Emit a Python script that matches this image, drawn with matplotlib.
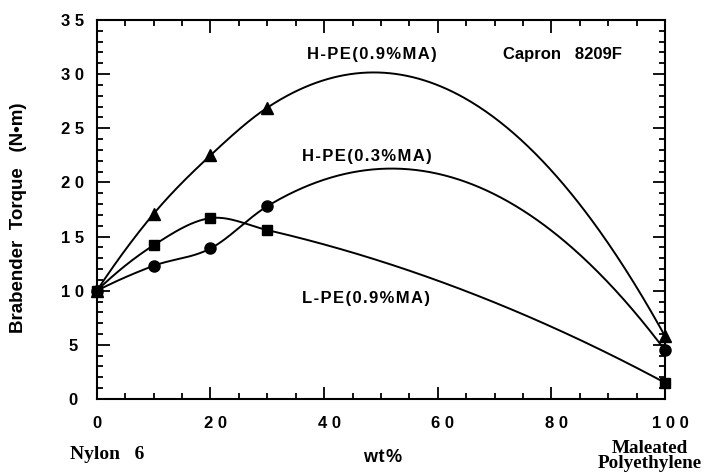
import numpy as np
import matplotlib
matplotlib.use("Agg")
import matplotlib.pyplot as plt
from matplotlib.ticker import MultipleLocator
from matplotlib.transforms import ScaledTranslation

# wt% of maleated polyethylene in the blend
wt_pct = [0, 10, 20, 30, 100]

# Brabender torque (N·m) for each blend series
torque_hpe_09 = [10.0, 17.1, 22.5, 26.9, 5.8]
torque_hpe_03 = [10.0, 12.3, 13.9, 17.8, 4.5]
torque_lpe_09 = [10.0, 14.2, 16.7, 15.6, 1.5]

x_ticks = [0, 20, 40, 60, 80, 100]
x_tick_labels = ["0", "2 0", "4 0", "6 0", "8 0", "1 0 0"]
y_ticks = [0, 5, 10, 15, 20, 25, 30, 35]
y_tick_labels = ["0", "5", "1 0", "1 5", "2 0", "2 5", "3 0", "3 5"]

SANS = ["Liberation Sans", "DejaVu Sans"]
SERIF = ["Liberation Serif", "DejaVu Serif"]
HAIR = "\u200a"


def spaced(s, sep=HAIR):
    return sep.join(s)


def parabolic_blend(x, y, xs):
    """Parabolic-blending curve: each interval mixes the parabolas through
    the neighbouring point triples; end intervals use a single parabola."""
    x = np.asarray(x, float)
    y = np.asarray(y, float)
    n = len(x)
    paras = [np.polyfit(x[i:i + 3], y[i:i + 3], 2) for i in range(n - 2)]
    out = np.empty_like(xs)
    idx = np.clip(np.searchsorted(x, xs) - 1, 0, n - 2)
    for j, (xv, i) in enumerate(zip(xs, idx)):
        left = paras[i - 1] if i - 1 >= 0 else None
        right = paras[i] if i <= n - 3 else None
        if left is None:
            out[j] = np.polyval(right, xv)
        elif right is None:
            out[j] = np.polyval(left, xv)
        else:
            t = (xv - x[i]) / (x[i + 1] - x[i])
            out[j] = (1 - t) * np.polyval(left, xv) + t * np.polyval(right, xv)
    return out


fig = plt.figure(figsize=(7.12, 4.72), dpi=100)
ax = fig.add_axes([0.136, 0.1547, 0.798, 0.803])

xs = np.linspace(0, 100, 400)
series = [
    (torque_hpe_09, "^", 8.5),
    (torque_hpe_03, "o", 8),
    (torque_lpe_09, "s", 7.5),
]
for vals, mk, ms in series:
    ax.plot(xs, parabolic_blend(wt_pct, vals, xs), color="black", lw=1.4,
            clip_on=False, zorder=2)
    ax.plot(wt_pct, vals, linestyle="none", marker=mk, ms=ms, color="black",
            clip_on=False, zorder=3)

ax.set_xlim(0, 100)
ax.set_ylim(0, 35)
ax.set_xticks(x_ticks)
ax.set_xticklabels(x_tick_labels)
ax.set_yticks(y_ticks)
ax.set_yticklabels(y_tick_labels)
ax.xaxis.set_minor_locator(MultipleLocator(5))
ax.yaxis.set_minor_locator(MultipleLocator(1))
ax.tick_params(which="both", direction="in", top=True, right=True, width=1.3)
ax.tick_params(which="major", length=9)
ax.tick_params(which="minor", length=4.5)
ax.tick_params(axis="x", which="major", pad=12)
ax.tick_params(axis="y", which="major", pad=9)
for sp in ax.spines.values():
    sp.set_linewidth(1.5)

# shift multi-digit x labels and single-digit y labels a little
for lab in ax.get_xticklabels():
    lab.set_family(SANS)
    lab.set_fontweight("bold")
    lab.set_fontsize(12)
    if len(lab.get_text()) > 1:
        lab.set_transform(lab.get_transform() + ScaledTranslation(5 / 100, 0, fig.dpi_scale_trans))
for lab in ax.get_yticklabels():
    lab.set_family(SANS)
    lab.set_fontweight("bold")
    lab.set_fontsize(12)
    if len(lab.get_text()) == 1:
        lab.set_transform(lab.get_transform() + ScaledTranslation(-7 / 100, 0, fig.dpi_scale_trans))

fig.text(18.5 / 712, 1 - 218 / 472, "Brabender  Torque   (N\u2022m)",
         family=SANS, fontweight="bold", fontsize=13.5, rotation=90,
         ha="center", va="center")

txt = dict(family=SANS, fontweight="bold", ha="left", va="center")
ax.text(37.0, 31.8, spaced("H-PE(0.9%MA)"), fontsize=12, **txt)
ax.text(71.5, 31.8, "Capron   8209F", fontsize=12, **txt)
ax.text(36.1, 22.4, spaced("H-PE(0.3%MA)"), fontsize=12, **txt)
ax.text(36.1, 9.3, spaced("L-PE(0.9%MA)"), fontsize=12, **txt)

fig.text(382.5 / 712, 1 - 461.5 / 472, spaced("wt%"), family=SANS,
         fontweight="bold", fontsize=13, ha="center", va="baseline")
fig.text(107.5 / 712, 1 - 459 / 472, "Nylon   6", family=SERIF,
         fontweight="bold", fontsize=14, ha="center", va="baseline")
fig.text(650 / 712, 1 - 456 / 472, "Maleated\nPolyethylene", family=SERIF,
         fontweight="bold", fontsize=13.8, ha="center", va="center",
         multialignment="center", linespacing=0.82)

fig.savefig("out.png", dpi=100, facecolor="white")
